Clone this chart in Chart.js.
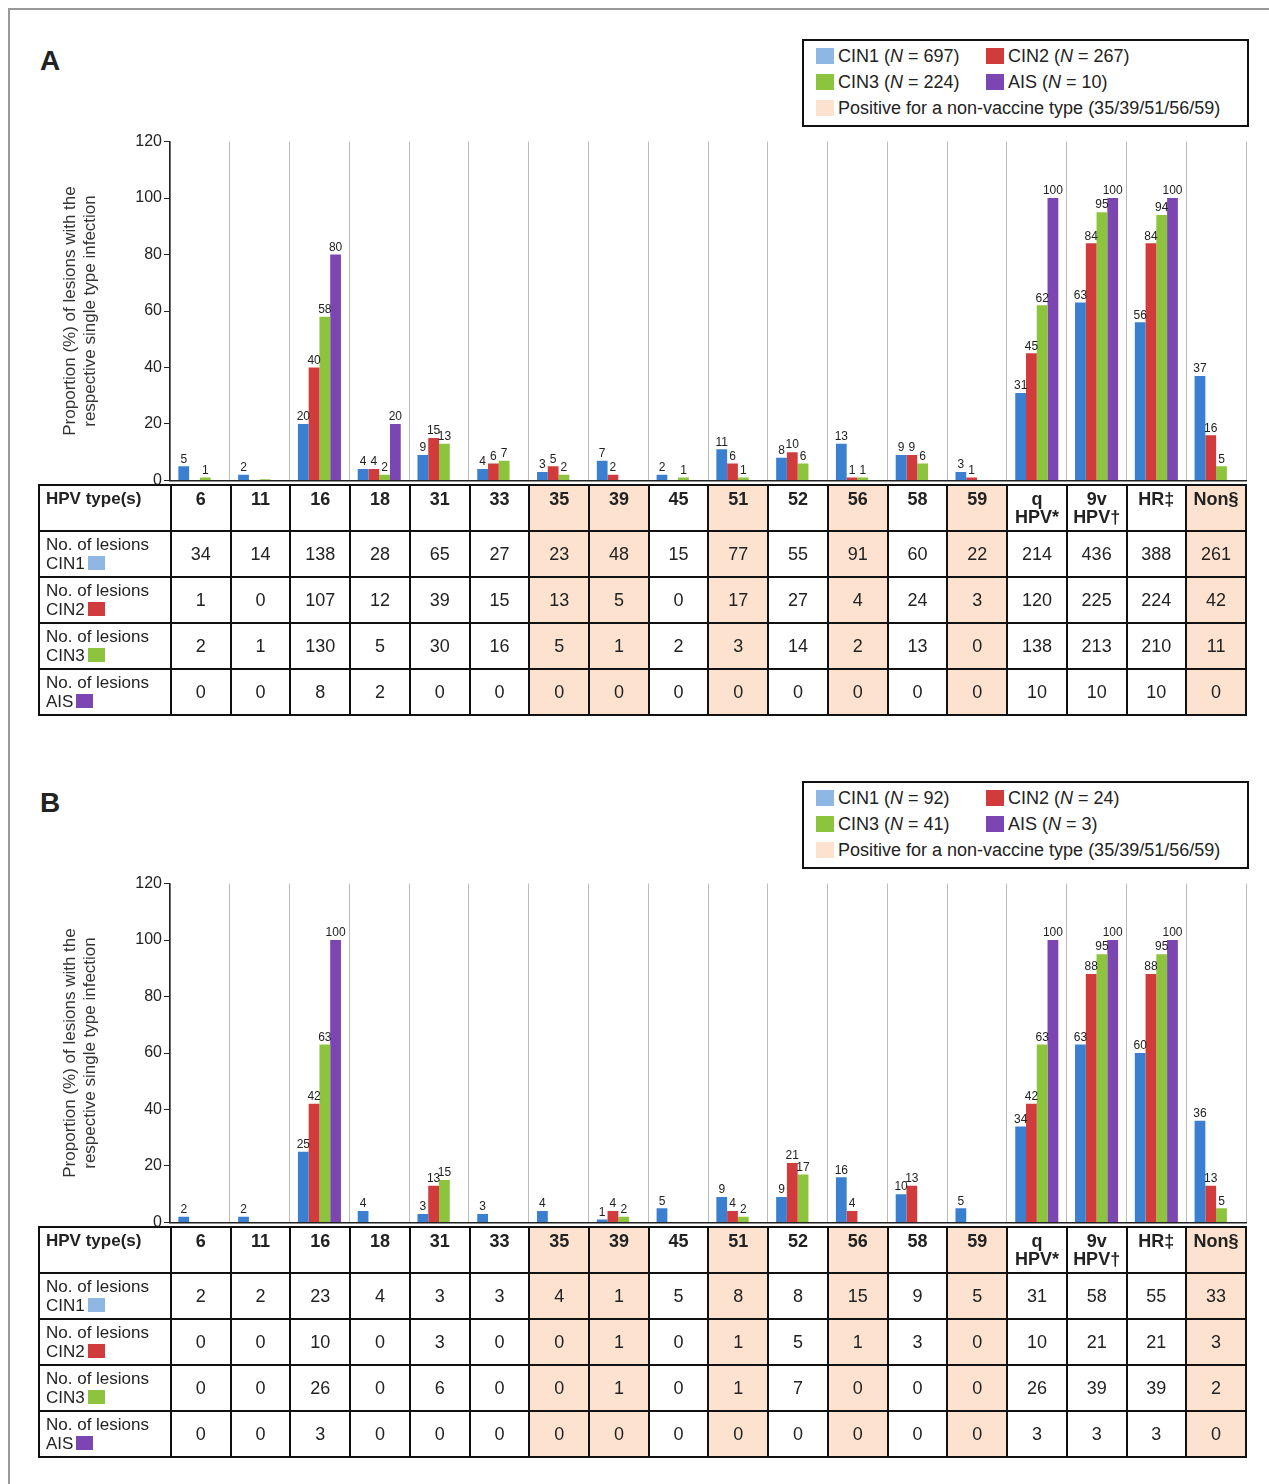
<!DOCTYPE html>
<html>
<head>
<meta charset="utf-8">
<script src="https://cdn.jsdelivr.net/npm/chart.js@4"></script>
<style>
  body { margin: 0; background: #fff; font-family: "Liberation Sans", Arial, sans-serif; color: #222; }
  #frame { position: absolute; left: 8px; top: 8px; width: 1270px; height: 1490px; border: 2px solid #999; box-sizing: border-box; }
  .letter { position: absolute; font-size: 28px; font-weight: bold; }
  .legend { position: absolute; border: 2px solid #111; background: #fff; font-size: 18px; box-sizing: border-box; }
  .legend .it { position: absolute; white-space: nowrap; }
  .sw { display: inline-block; width: 18px; height: 16px; vertical-align: -2px; margin-right: 4px; }
  .cv { position: absolute; }
  table { position: absolute; border-collapse: collapse; font-size: 18px; table-layout: fixed; width: 1209px; }
  td { border: 2px solid #111; text-align: center; padding: 0; overflow: hidden; }
  td.lab { text-align: left; padding-left: 6px; line-height: 19px; font-size: 17px; }
  tr.hd td { font-weight: bold; vertical-align: top; line-height: 18px; padding-top: 4px; }
  td.nv { background: #fde3cf; }
  .sq { display: inline-block; width: 17px; height: 14px; vertical-align: -1px; margin-left: 3px; }
</style>
</head>
<body>
<div id="frame"></div>

<script>
// Categories and colours
const hpvTypes = ['6', '11', '16', '18', '31', '33', '35', '39', '45', '51', '52', '56', '58', '59', 'q HPV*', '9v HPV\u2020', 'HR\u2021', 'Non\u00a7'];
const nonVaccine = ['35', '39', '51', '56', '59', 'Non\u00a7'];
const seriesNames = ['CIN1', 'CIN2', 'CIN3', 'AIS'];
const barColors = ['#3b7fd1', '#d23b3b', '#8cc43d', '#7b45b2'];
const legendColors = ['#8fb7e4', '#d23b3b', '#8cc43d', '#7b45b2'];
const yTicks = [0, 20, 40, 60, 80, 100, 120];

// Panel A: proportions (%)
const cin1A = [5, 2, 20, 4, 9, 4, 3, 7, 2, 11, 8, 13, 9, 3, 31, 63, 56, 37];
const cin2A = [0, 0, 40, 4, 15, 6, 5, 2, 0, 6, 10, 1, 9, 1, 45, 84, 84, 16];
const cin3A = [1, 0.4, 58, 2, 13, 7, 2, 0, 1, 1, 6, 1, 6, 0, 62, 95, 94, 5];
const aisA  = [0, 0, 80, 20, 0, 0, 0, 0, 0, 0, 0, 0, 0, 0, 100, 100, 100, 0];
// Panel A: number of lesions
const nCin1A = [34, 14, 138, 28, 65, 27, 23, 48, 15, 77, 55, 91, 60, 22, 214, 436, 388, 261];
const nCin2A = [1, 0, 107, 12, 39, 15, 13, 5, 0, 17, 27, 4, 24, 3, 120, 225, 224, 42];
const nCin3A = [2, 1, 130, 5, 30, 16, 5, 1, 2, 3, 14, 2, 13, 0, 138, 213, 210, 11];
const nAisA  = [0, 0, 8, 2, 0, 0, 0, 0, 0, 0, 0, 0, 0, 0, 10, 10, 10, 0];
const totalsA = [697, 267, 224, 10];

// Panel B: proportions (%)
const cin1B = [2, 2, 25, 4, 3, 3, 4, 1, 5, 9, 9, 16, 10, 5, 34, 63, 60, 36];
const cin2B = [0, 0, 42, 0, 13, 0, 0, 4, 0, 4, 21, 4, 13, 0, 42, 88, 88, 13];
const cin3B = [0, 0, 63, 0, 15, 0, 0, 2, 0, 2, 17, 0, 0, 0, 63, 95, 95, 5];
const aisB  = [0, 0, 100, 0, 0, 0, 0, 0, 0, 0, 0, 0, 0, 0, 100, 100, 100, 0];
// Panel B: number of lesions
const nCin1B = [2, 2, 23, 4, 3, 3, 4, 1, 5, 8, 8, 15, 9, 5, 31, 58, 55, 33];
const nCin2B = [0, 0, 10, 0, 3, 0, 0, 1, 0, 1, 5, 1, 3, 0, 10, 21, 21, 3];
const nCin3B = [0, 0, 26, 0, 6, 0, 0, 1, 0, 1, 7, 0, 0, 0, 26, 39, 39, 2];
const nAisB  = [0, 0, 3, 0, 0, 0, 0, 0, 0, 0, 0, 0, 0, 0, 3, 3, 3, 0];
const totalsB = [92, 24, 41, 3];

// value labels above bars
const barLabels = {
  id: 'barLabels',
  afterDatasetsDraw(chart) {
    const ctx = chart.ctx;
    ctx.save();
    ctx.font = '12px "Liberation Sans", Arial';
    ctx.fillStyle = '#222';
    ctx.textAlign = 'center';
    ctx.textBaseline = 'bottom';
    chart.data.datasets.forEach((ds, i) => {
      chart.getDatasetMeta(i).data.forEach((bar, j) => {
        const v = ds.data[j];
        if (v >= 1) ctx.fillText(Math.round(v), bar.x, bar.y - 1);
      });
    });
    ctx.restore();
  }
};

function addEl(html, cls, left, top) {
  const d = document.createElement('div');
  d.className = cls;
  d.style.left = left + 'px';
  d.style.top = top + 'px';
  d.innerHTML = html;
  document.body.appendChild(d);
  return d;
}

function buildPanel(letter, top, values, counts, totals) {
  addEl(letter, 'letter', 40, top);

  // legend
  const lg = addEl('', 'legend', 802, top - 6);
  lg.style.width = '447px';
  lg.style.height = '88px';
  const pos = [[12, 5], [182, 5], [12, 31], [182, 31]];
  seriesNames.forEach((s, i) => {
    const it = document.createElement('div');
    it.className = 'it';
    it.style.left = pos[i][0] + 'px';
    it.style.top = pos[i][1] + 'px';
    it.innerHTML = '<span class="sw" style="background:' + legendColors[i] + '"></span>' + s + ' (<i>N</i> = ' + totals[i] + ')';
    lg.appendChild(it);
  });
  const nv = document.createElement('div');
  nv.className = 'it';
  nv.style.left = '12px';
  nv.style.top = '57px';
  nv.innerHTML = '<span class="sw" style="background:#fde3cf"></span>Positive for a non-vaccine type (35/39/51/56/59)';
  lg.appendChild(nv);

  // chart
  const wrap = addEl('<canvas></canvas>', 'cv', 60, top + 85);
  wrap.style.width = '1188px';
  wrap.style.height = '362px';
  new Chart(wrap.querySelector('canvas'), {
    type: 'bar',
    data: {
      labels: hpvTypes,
      datasets: seriesNames.map((s, i) => ({
        label: s,
        data: values[i],
        backgroundColor: barColors[i],
        categoryPercentage: 0.72,
        barPercentage: 1
      }))
    },
    options: {
      responsive: true,
      maintainAspectRatio: false,
      animation: false,
      layout: { padding: { top: 10, right: 2, bottom: 0 } },
      plugins: { legend: { display: false }, tooltip: { enabled: false } },
      scales: {
        x: {
          ticks: { display: false },
          grid: { offset: true, color: '#bbb', lineWidth: 1, drawTicks: false },
          border: { color: '#222', width: 1.5 }
        },
        y: {
          min: 0, max: 120,
          afterFit(scale) { scale.width = 110; },
          afterBuildTicks(scale) { scale.ticks = yTicks.map(v => ({ value: v })); },
          ticks: { color: '#222', font: { size: 16, family: '"Liberation Sans", Arial' }, padding: 2 },
          grid: { drawOnChartArea: false, tickLength: 6, color: '#222' },
          border: { color: '#222', width: 1.5 },
          title: {
            display: true,
            text: ['Proportion (%) of lesions with the', 'respective single type infection'],
            color: '#333',
            font: { size: 17, family: '"Liberation Sans", Arial' },
            padding: { top: 0, bottom: 8 }
          }
        }
      }
    },
    plugins: [barLabels]
  });

  // table
  const tb = document.createElement('table');
  tb.style.left = '38px';
  tb.style.top = (top + 439) + 'px';
  let html = '<colgroup><col style="width:132px">' + hpvTypes.map(() => '<col>').join('') + '</colgroup>';
  html += '<tr class="hd" style="height:46px"><td class="lab">HPV type(s)</td>';
  hpvTypes.forEach(t => {
    const cls = nonVaccine.includes(t) ? ' class="nv"' : '';
    html += '<td' + cls + '>' + t.replace(' ', '<br>') + '</td>';
  });
  html += '</tr>';
  seriesNames.forEach((s, i) => {
    html += '<tr style="height:46px"><td class="lab">No. of lesions<br>' + s +
      '<span class="sq" style="background:' + legendColors[i] + '"></span></td>';
    counts[i].forEach((c, j) => {
      const nvc = nonVaccine.includes(hpvTypes[j]);
      html += '<td' + (nvc ? ' class="nv"' : '') + '>' + c + '</td>';
    });
    html += '</tr>';
  });
  tb.innerHTML = html;
  document.body.appendChild(tb);
}

buildPanel('A', 45, [cin1A, cin2A, cin3A, aisA], [nCin1A, nCin2A, nCin3A, nAisA], totalsA);
buildPanel('B', 787, [cin1B, cin2B, cin3B, aisB], [nCin1B, nCin2B, nCin3B, nAisB], totalsB);
</script>
</body>
</html>
